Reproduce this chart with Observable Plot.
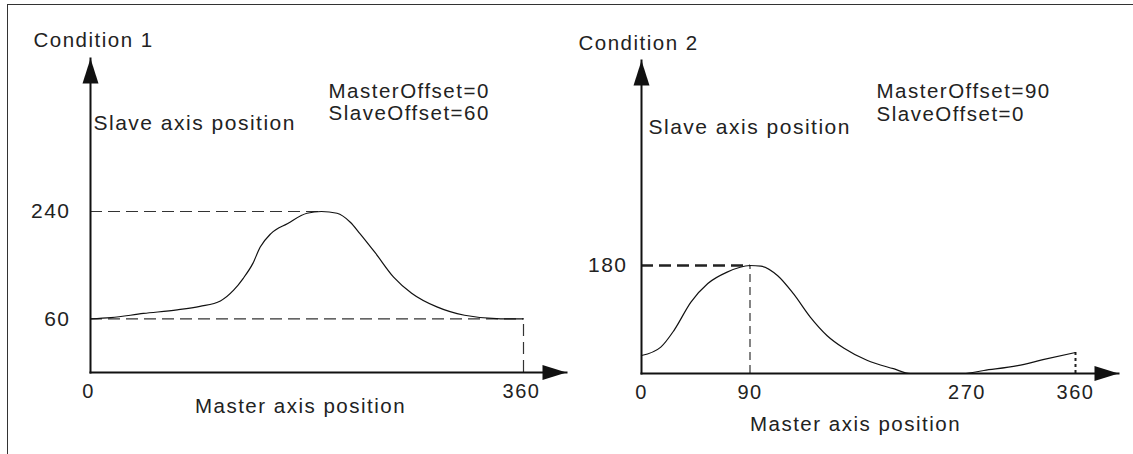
<!DOCTYPE html>
<html>
<head>
<meta charset="utf-8">
<script src="https://cdn.jsdelivr.net/npm/d3@7"></script>
<script src="https://cdn.jsdelivr.net/npm/@observablehq/plot@0.6"></script>
<style>
  html, body { margin: 0; padding: 0; background: #fff; }
  #wrap { position: relative; width: 1133px; height: 454px; overflow: hidden; background: #fff; }
  #border { position: absolute; left: 7px; top: 4px; right: -3px; bottom: -3px; border-top: 1px solid #333; border-left: 1px solid #333; }
  #c1 { position: absolute; left: 0; top: 0; }
  #c2 { position: absolute; left: 572px; top: 0; }
  #wrap svg text { letter-spacing: 1.5px; }
</style>
</head>
<body>
<div id="wrap">
  <div id="border"></div>
  <div id="c1"></div>
  <div id="c2"></div>
</div>
<script>
// ---- Data ----
const titles = ["Condition 1", "Condition 2"];
const xLabel = "Master axis position";
const yLabel = "Slave axis position";
const masterOffsets = [0, 90];
const slaveOffsets = [60, 0];

// Condition 1 cam curve (master position -> slave position)
const c1Master = [0, 17, 44, 72, 91, 108, 119, 127, 135, 141, 150, 164, 180, 192, 205, 216, 224, 237, 252, 267, 288, 311, 341, 360];
const c1Slave  = [60, 62, 69, 75, 81, 90, 108, 128, 153, 180, 203, 220, 237, 240, 237, 222, 203, 170, 130, 103, 80, 66, 60, 60];
const c1XTicks = [0, 360];
const c1YTicks = [60, 240];
const c1YBase = -30; // schematic: the master axis sits below slave position 0

// Condition 2 cam curve
const c2Master = [0, 16, 27, 41, 55, 71, 90, 99, 113, 126, 140, 154, 168, 187, 209, 223, 267, 284, 312, 333, 360];
const c2Slave  = [30, 44, 72, 119, 150, 169, 180, 179, 163, 133, 94, 63, 42, 22, 8, 0, 0, 5, 13, 23, 35];
const c2XTicks = [0, 90, 270, 360];
const c2YTicks = [180];

const c1 = c1Master.map((m, i) => ({master: m, slave: c1Slave[i]}));
const c2 = c2Master.map((m, i) => ({master: m, slave: c2Slave[i]}));

// arrowhead symbols (tip at the anchor point)
const arrowUp = {draw(ctx) { ctx.moveTo(0, 0); ctx.lineTo(8, 25); ctx.lineTo(-8, 25); ctx.closePath(); }};
const arrowRight = {draw(ctx) { ctx.moveTo(0, 0); ctx.lineTo(-24, 7.5); ctx.lineTo(-24, -7.5); ctx.closePath(); }};

const font = "'Liberation Sans', Arial, sans-serif";
const ink = "#222";

// ---- Condition 1 ----
const c1Peak = c1[d3.maxIndex(c1, d => d.slave)];
const c1End = c1[c1.length - 1];
const p1 = Plot.plot({
  width: 572, height: 454,
  marginLeft: 90, marginRight: 6, marginTop: 58, marginBottom: 82,
  x: {domain: [0, 360], range: [90, 523]},
  y: {domain: [c1YBase, 240], range: [372, 211]},
  style: {fontFamily: font, fontSize: "20px", color: ink, background: "transparent", overflow: "visible"},
  marks: [
    Plot.ruleY([c1Peak.slave], {x1: 0, x2: c1Peak.master, stroke: "#333", strokeWidth: 1.2, strokeDasharray: "12,6"}),
    Plot.ruleY([c1Slave[0]], {x1: 0, x2: c1End.master, stroke: "#333", strokeWidth: 1.2, strokeDasharray: "12,6"}),
    Plot.ruleX([c1End.master], {y1: c1YBase, y2: c1End.slave, stroke: "#333", strokeWidth: 1.2, strokeDasharray: "12,6"}),
    Plot.line(c1, {x: "master", y: "slave", curve: "monotone-x", stroke: "#111", strokeWidth: 1.2}),
    Plot.frame({anchor: "left", stroke: "#111", strokeWidth: 2}),
    Plot.frame({anchor: "bottom", stroke: "#111", strokeWidth: 2}),
    Plot.dot([0], {frameAnchor: "top-left", symbol: arrowUp, fill: "#111", stroke: "none", r: 5}),
    Plot.dot([0], {frameAnchor: "bottom-right", symbol: arrowRight, fill: "#111", stroke: "none", r: 5}),
    Plot.axisX({ticks: c1XTicks, tickSize: 0, tickPadding: 11, fontSize: 20, dx: -2, label: null, fill: ink}),
    Plot.axisY({ticks: c1YTicks, tickSize: 0, tickPadding: 20, fontSize: 21, label: null, fill: ink}),
    Plot.text([titles[0]], {frameAnchor: "top-left", dx: -57, dy: -12, textAnchor: "start", lineAnchor: "bottom", fontSize: 20.5, fill: ink}),
    Plot.text([yLabel], {frameAnchor: "top-left", dx: 3, dy: 71, textAnchor: "start", lineAnchor: "bottom", fontSize: 21, fill: ink}),
    Plot.text([`MasterOffset=${masterOffsets[0]}\nSlaveOffset=${slaveOffsets[0]}`], {frameAnchor: "top-left", dx: 238, dy: 61, textAnchor: "start", lineAnchor: "bottom", lineHeight: 1.05, fontSize: 20.5, fill: ink}),
    Plot.text([xLabel], {frameAnchor: "bottom-left", dx: 210, dy: 40, textAnchor: "middle", lineAnchor: "bottom", fontSize: 20.5, fill: ink})
  ]
});
document.getElementById("c1").appendChild(p1);

// ---- Condition 2 ----
const c2Peak = c2[d3.maxIndex(c2, d => d.slave)];
const c2End = c2[c2.length - 1];
const p2 = Plot.plot({
  width: 561, height: 454,
  marginLeft: 69, marginRight: 15, marginTop: 60, marginBottom: 81,
  x: {domain: [0, 360], range: [69, 503]},
  y: {domain: [0, 180], range: [373, 265]},
  style: {fontFamily: font, fontSize: "20px", color: ink, background: "transparent", overflow: "visible"},
  marks: [
    Plot.ruleY([c2Peak.slave], {x1: 0, x2: c2Peak.master, stroke: "#222", strokeWidth: 2.5, strokeDasharray: "12,6"}),
    Plot.ruleX([c2Peak.master], {y1: 0, y2: c2Peak.slave, stroke: "#333", strokeWidth: 1.2, strokeDasharray: "8,5"}),
    Plot.ruleX([c2End.master], {y1: 0, y2: c2End.slave, stroke: "#222", strokeWidth: 2, strokeDasharray: "3,3"}),
    Plot.line(c2, {x: "master", y: "slave", curve: "monotone-x", stroke: "#111", strokeWidth: 1.2}),
    Plot.frame({anchor: "left", stroke: "#111", strokeWidth: 2}),
    Plot.frame({anchor: "bottom", stroke: "#111", strokeWidth: 2}),
    Plot.dot([0], {frameAnchor: "top-left", symbol: arrowUp, fill: "#111", stroke: "none", r: 5}),
    Plot.dot([0], {frameAnchor: "bottom-right", symbol: arrowRight, fill: "#111", stroke: "none", r: 5}),
    Plot.axisX({ticks: c2XTicks, tickSize: 0, tickPadding: 11, fontSize: 20, label: null, fill: ink}),
    Plot.axisY({ticks: c2YTicks, tickSize: 0, tickPadding: 14, fontSize: 21, label: null, fill: ink}),
    Plot.text([titles[1]], {frameAnchor: "top-left", dx: -63, dy: -11, textAnchor: "start", lineAnchor: "bottom", fontSize: 20.5, fill: ink}),
    Plot.text([yLabel], {frameAnchor: "top-left", dx: 7, dy: 73, textAnchor: "start", lineAnchor: "bottom", fontSize: 21, fill: ink}),
    Plot.text([`MasterOffset=${masterOffsets[1]}\nSlaveOffset=${slaveOffsets[1]}`], {frameAnchor: "top-left", dx: 235, dy: 60, textAnchor: "start", lineAnchor: "bottom", lineHeight: 1.12, fontSize: 20.5, fill: ink}),
    Plot.text([xLabel], {frameAnchor: "bottom-left", dx: 214, dy: 57, textAnchor: "middle", lineAnchor: "bottom", fontSize: 20.5, fill: ink})
  ]
});
document.getElementById("c2").appendChild(p2);
</script>
</body>
</html>
